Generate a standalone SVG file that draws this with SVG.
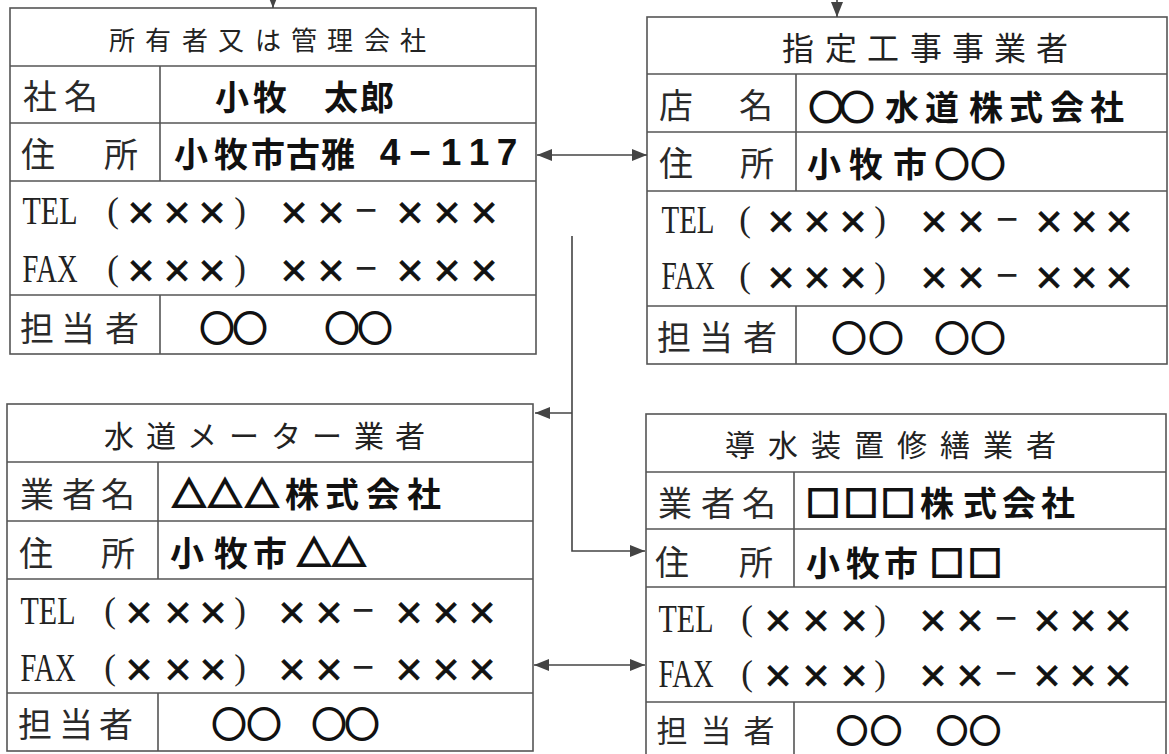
<svg xmlns="http://www.w3.org/2000/svg" width="1169" height="754" viewBox="0 0 1169 754">
<style>
.frame{fill:#fff;stroke:#555;stroke-width:1.6}
.ln{stroke:#555;stroke-width:1.6;fill:none}
.conn{stroke:#444;stroke-width:1.6;fill:none}
text{font-family:"Noto Sans CJK JP","Noto Sans",sans-serif;dominant-baseline:central;text-anchor:middle;fill:#222}
.t1{font-size:26px}
.t2{font-size:32px}
.t3{font-size:30px}
.lbl{font-size:34px;fill:#2a2a2a}
.val{font-size:34px;font-weight:700;fill:#111}
.num{font-family:"Liberation Sans",Arial,sans-serif;font-size:37px;font-weight:700;fill:#111}
.lat{font-family:"Liberation Serif","Times New Roman",serif;font-size:40px;fill:#222}
.par{font-family:"Liberation Serif","Times New Roman",serif;font-size:35px;fill:#222}
.xx{font-size:31px;font-weight:700;fill:#111;stroke:#111;stroke-width:0.8}
.dash{font-family:"Liberation Sans",Arial,sans-serif;font-size:38px;fill:#222}
.cir{font-size:34px;fill:#111;stroke:#111;stroke-width:2.2}
.geo{stroke:#111;stroke-width:2.2}
.sm{font-size:31px}
</style>
<defs>
<marker id="ah" markerUnits="userSpaceOnUse" markerWidth="15" markerHeight="12" refX="15" refY="6" orient="auto-start-reverse">
<path d="M0,0 L15,6 L0,12 z" fill="#444"/>
</marker>
</defs>

<g id="owner">
<rect class="frame" x="10" y="8" width="526" height="346"/>
<path class="ln" d="M10 66H536M10 123H536M10 181H536M10 295H536M160 66V181M160 295V354"/>
<text class="t1" y="38" x="122 158 195 231 268 304 340 377 413">所有者又は管理会社</text>
<text class="lbl" y="94" x="40 81">社名</text>
<text class="val" y="95" x="232 270 305 341 377">小牧　太郎</text>
<text class="lbl" y="152" x="38 80 121">住　所</text>
<text class="val" y="152" x="191 231 268 303 338">小牧市古雅</text>
<text class="num" y="152" x="390 420 451 479 507">4−117</text>
<text class="lat" y="210" x="50" textLength="55" lengthAdjust="spacingAndGlyphs">TEL</text>
<text y="210"><tspan class="par" x="113">(</tspan><tspan class="xx" x="141 177 212">×××</tspan><tspan class="par" x="240">)</tspan><tspan class="xx" x="294 331">××</tspan><tspan class="dash" x="366">−</tspan><tspan class="xx" x="410 447 484">×××</tspan></text>
<text class="lat" y="268" x="50" textLength="55" lengthAdjust="spacingAndGlyphs">FAX</text>
<text y="268"><tspan class="par" x="113">(</tspan><tspan class="xx" x="141 177 212">×××</tspan><tspan class="par" x="240">)</tspan><tspan class="xx" x="294 331">××</tspan><tspan class="dash" x="366">−</tspan><tspan class="xx" x="410 447 484">×××</tspan></text>
<text class="lbl" y="326" x="37 78 122">担当者</text>
<text class="cir" y="326" x="217 250 296 342 375">○○　○○</text>
</g>

<g id="contractor">
<rect class="frame" x="647" y="17" width="520" height="347"/>
<path class="ln" d="M647 74H1167M647 132H1167M647 191H1167M647 306H1167M796 74V191M796 306V364"/>
<text class="t2" y="46" x="798 841 883 926 968 1010 1052">指定工事事業者</text>
<text class="lbl" y="103" x="676 716 756">店　名</text>
<text class="val" y="105" x="826 857 902 942 986 1026 1067 1107"><tspan class="geo">○○</tspan>水道株式会社</text>
<text class="lbl" y="161" x="676 716 757">住　所</text>
<text class="val" y="162" x="824 866 910 952 988">小牧市<tspan class="geo">○○</tspan></text>
<text class="lat" y="219" x="688" textLength="53" lengthAdjust="spacingAndGlyphs">TEL</text>
<text y="219"><tspan class="par" x="745">(</tspan><tspan class="xx" x="781 817 853">×××</tspan><tspan class="par" x="880">)</tspan><tspan class="xx" x="934 971">××</tspan><tspan class="dash" x="1007">−</tspan><tspan class="xx" x="1049 1084 1119">×××</tspan></text>
<text class="lat" y="275" x="688" textLength="53" lengthAdjust="spacingAndGlyphs">FAX</text>
<text y="275"><tspan class="par" x="745">(</tspan><tspan class="xx" x="781 817 853">×××</tspan><tspan class="par" x="880">)</tspan><tspan class="xx" x="934 971">××</tspan><tspan class="dash" x="1007">−</tspan><tspan class="xx" x="1049 1084 1119">×××</tspan></text>
<text class="lbl" y="335" x="674 716 760">担当者</text>
<text class="cir" y="336" x="849 886 919 952 988">○○　○○</text>
</g>

<g id="meter">
<rect class="frame" x="7" y="404" width="526" height="347"/>
<path class="ln" d="M7 462H533M7 521H533M7 579H533M7 693H533M158 462V579M158 693V751"/>
<text class="t3" y="434" x="119 161 202 244 286 327 369 410">水道メーター業者</text>
<text class="lbl" y="492" x="37 79 118">業者名</text>
<text class="val" y="492" x="189 225 262 302 342 383 424"><tspan class="geo">△△△</tspan>株式会社</text>
<text class="lbl" y="551" x="36 77 118">住　所</text>
<text class="val" y="551" x="187 231 270 314 349">小牧市<tspan class="geo">△△</tspan></text>
<text class="lat" y="610" x="48" textLength="55" lengthAdjust="spacingAndGlyphs">TEL</text>
<text y="610"><tspan class="par" x="110">(</tspan><tspan class="xx" x="139 178 213">×××</tspan><tspan class="par" x="240">)</tspan><tspan class="xx" x="292 329">××</tspan><tspan class="dash" x="363">−</tspan><tspan class="xx" x="409 446 482">×××</tspan></text>
<text class="lat" y="667" x="48" textLength="55" lengthAdjust="spacingAndGlyphs">FAX</text>
<text y="667"><tspan class="par" x="110">(</tspan><tspan class="xx" x="139 178 213">×××</tspan><tspan class="par" x="240">)</tspan><tspan class="xx" x="292 329">××</tspan><tspan class="dash" x="363">−</tspan><tspan class="xx" x="409 446 482">×××</tspan></text>
<text class="lbl" y="722" x="35 76 116">担当者</text>
<text class="cir" y="722" x="229 264 296 329 362">○○　○○</text>
</g>

<g id="repairer">
<rect class="frame" x="646" y="414" width="520" height="346"/>
<path class="ln" d="M646 472H1166M646 529H1166M646 587H1166M646 702H1166M794 472V587M794 702V760"/>
<text class="t3" y="443" x="740 783 826 869 912 955 998 1041">導水装置修繕業者</text>
<text class="lbl" y="501" x="675 718 759">業者名</text>
<text class="val" y="501" x="823 861 898 937 980 1019 1058"><tspan class="geo">□□□</tspan>株式会社</text>
<text class="lbl" y="560" x="672 714 756">住　所</text>
<text class="val" y="561" x="823 863 901 947 985">小牧市<tspan class="geo">□□</tspan></text>
<text class="lat" y="618" x="686" textLength="55" lengthAdjust="spacingAndGlyphs">TEL</text>
<text y="618"><tspan class="par" x="747">(</tspan><tspan class="xx" x="778 816 854">×××</tspan><tspan class="par" x="880">)</tspan><tspan class="xx" x="933 970">××</tspan><tspan class="dash" x="1006">−</tspan><tspan class="xx" x="1047 1083 1118">×××</tspan></text>
<text class="lat" y="673" x="686" textLength="55" lengthAdjust="spacingAndGlyphs">FAX</text>
<text y="673"><tspan class="par" x="747">(</tspan><tspan class="xx" x="778 816 854">×××</tspan><tspan class="par" x="880">)</tspan><tspan class="xx" x="933 970">××</tspan><tspan class="dash" x="1006">−</tspan><tspan class="xx" x="1047 1083 1118">×××</tspan></text>
<text class="lbl sm" y="728" x="672 716 759">担当者</text>
<text class="cir sm" y="728" x="852 886 919 952 985">○○　○○</text>
</g>

<g id="connectors">
<line class="conn" x1="273" y1="-4" x2="273" y2="8" marker-end="url(#ah)"/>
<line class="conn" x1="837" y1="-4" x2="837" y2="17" marker-end="url(#ah)"/>
<line class="conn" x1="537" y1="155" x2="647" y2="155" marker-start="url(#ah)" marker-end="url(#ah)"/>
<polyline class="conn" points="572,236 572,551 645,551" marker-end="url(#ah)"/>
<line class="conn" x1="572" y1="413" x2="535" y2="413" marker-end="url(#ah)"/>
<line class="conn" x1="534" y1="665" x2="645" y2="665" marker-start="url(#ah)" marker-end="url(#ah)"/>
</g>
</svg>
